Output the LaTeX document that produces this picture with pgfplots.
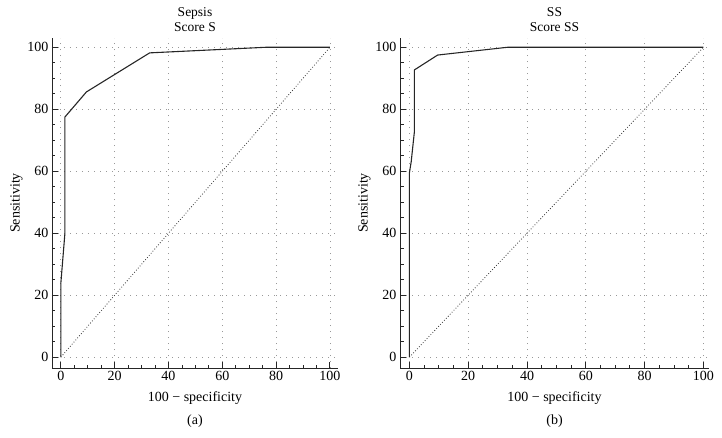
\documentclass[border=0pt]{standalone}
\usepackage{fontspec}
\setmainfont{Liberation Serif}
\usepackage{pgfplots}
\pgfplotsset{compat=1.18}

\pgfplotsset{
  rocaxis/.style={
    scale only axis,
    height=330pt,
    ymin=-3.5, ymax=103,
    axis x line*=bottom, axis y line*=left,
    axis line style={line width=0.9pt, black!85},
    xtick={0,20,...,100}, ytick={0,20,...,100},
    minor tick num=3,
    tick align=inside,
    major tick length=6pt, minor tick length=3.5pt,
    tick style={line width=0.9pt, black!85},
    grid=major,
    major grid style={gray!80, line width=0.8pt, dash pattern=on 0.8pt off 5.2pt},
    /pgf/number format/assume math mode=true,
    tick label style={font=\fontsize{14}{16}\selectfont},
    label style={font=\fontsize{14}{16}\selectfont},
    title style={font=\fontsize{13.5}{15}\selectfont, align=center, yshift=-3pt},
    xlabel={100 − specificity},
    ylabel={Sensitivity},
    xlabel style={yshift=-4pt},
    ylabel style={yshift=-2pt},
    clip=false,
  },
  roc/.style={black!85, line width=1.1pt},
  chance/.style={black!80, line width=0.8pt, dash pattern=on 0.8pt off 2pt},
}

\begin{document}
\begin{tikzpicture}
\begin{axis}[rocaxis, width=286pt, xmin=-3.3, xmax=103, title={Sepsis\\Score S}]
\addplot[chance] coordinates {(0,0) (100,100)};
\addplot[roc] coordinates {
  (0,0) (0,24) (1.5,40) (1.5,77.5) (9.5,85.6) (33,98.2) (76,100) (100,100)
};
\node[font=\fontsize{14}{16}\selectfont] at (rel axis cs:0.5,0) [yshift=-53pt] {(a)};
\end{axis}
\begin{axis}[rocaxis, at={(348pt,0)}, width=309pt, xmin=-3.2, xmax=101.9, title={SS\\Score SS}]
\addplot[chance] coordinates {(0,0) (100,100)};
\addplot[roc] coordinates {
  (0,0) (0,59.5) (0.6,63) (1.7,72.8) (1.7,92.7) (9.6,97.5) (33.3,100) (100,100)
};
\node[font=\fontsize{14}{16}\selectfont] at (rel axis cs:0.5,0) [yshift=-53pt] {(b)};
\end{axis}
\pgfresetboundingbox
\path[use as bounding box] (-52pt,-69pt) rectangle (670pt,368pt);
\end{tikzpicture}
\end{document}
